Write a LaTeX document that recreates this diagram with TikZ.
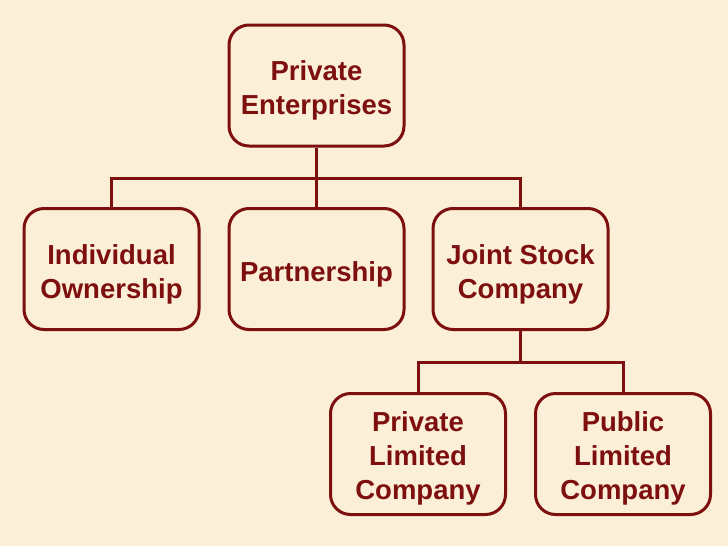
\documentclass[tikz,border=0pt]{standalone}
\usepackage{fontspec}
\setmainfont{Liberation Sans}
\definecolor{bg}{RGB}{251,239,215}
\definecolor{maroon}{RGB}{125,15,15}
\begin{document}
\begin{tikzpicture}[x=1pt,y=-1pt,
  box/.style={draw=maroon, line width=3pt, rounded corners=20pt, minimum width=175pt, minimum height=121pt, inner sep=0pt},
  lbl/.style={align=center, text=maroon, font=\fontsize{27.5}{34}\selectfont\bfseries, inner sep=0pt},
  conn/.style={draw=maroon, line width=3pt}]
\fill[bg] (0,0) rectangle (728,546);
\useasboundingbox (0,0) rectangle (728,546);
\node[box] (pe) at (316.5,85.5) {};
\node[box] (io) at (111.5,269) {};
\node[box] (pa) at (316.5,269) {};
\node[box] (js) at (520.5,269) {};
\node[box] (pl) at (418,454) {};
\node[box] (ul) at (623,454) {};
\node[lbl] (pet) at ([yshift=-5pt]pe.center) {Private\\Enterprises};
\node[lbl] (iot) at ([yshift=-5pt]io.center) {Individual\\Ownership};
\node[lbl] (pat) at ([yshift=-5pt]pa.center) {Partnership};
\node[lbl] (jst) at ([yshift=-5pt]js.center) {Joint Stock\\Company};
\node[lbl] (plt) at ([yshift=-4pt]pl.center) {Private\\Limited\\Company};
\node[lbl] (ult) at ([yshift=-4pt]ul.center) {Public\\Limited\\Company};
\coordinate (b1) at (316.5,178);
\coordinate (b2) at (520.5,362);
\draw[conn] (pe.south) -- (pa.north);
\draw[conn] (io.north) |- (b1) -| (js.north);
\draw[conn] (js.south) -- (b2);
\draw[conn] (pl.north) |- (b2) -| (ul.north);
\end{tikzpicture}
\end{document}
